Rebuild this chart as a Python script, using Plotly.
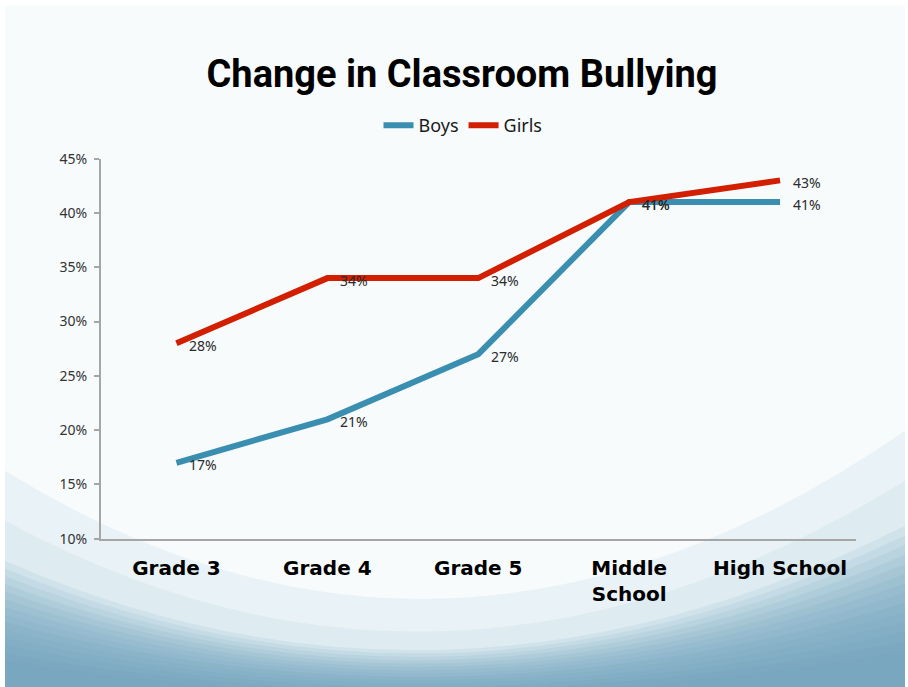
import plotly.graph_objects as go

W, H = 908, 687

categories = ["Grade 3", "Grade 4", "Grade 5", "Middle School", "High School"]
tick_labels = ["Grade 3", "Grade 4", "Grade 5", "Middle<br>School", "High School"]
boys = [0.17, 0.21, 0.27, 0.41, 0.41]
girls = [0.28, 0.34, 0.34, 0.41, 0.43]
y_ticks = [0.10, 0.15, 0.20, 0.25, 0.30, 0.35, 0.40, 0.45]

BLUE = "#3a8fb1"
RED = "#d21f00"

# screen-pixel helpers (vertical mapping calibrated to the rendered page)
Y_SCALE, Y_OFF = 0.972, 9.4

def px(x):
    return x / W

def py(y):
    return 1 - ((y - Y_OFF) / Y_SCALE) / H

fig = go.Figure()
fig.add_trace(go.Scatter(x=categories, y=boys, mode="lines", name="Boys",
                         line=dict(color=BLUE, width=6)))
fig.add_trace(go.Scatter(x=categories, y=girls, mode="lines", name="Girls",
                         line=dict(color=RED, width=6)))

annotations = []
for series in (boys, girls):
    for c, v in zip(categories, series):
        annotations.append(dict(x=c, y=v, xref="x", yref="y", text=f"{round(v*100)}%",
                                showarrow=False, xanchor="left", yanchor="middle",
                                xshift=11, yshift=-2,
                                font=dict(family="Noto Sans", size=14, color="#2a2a2a")))

def wave(y0, cy, y1, color, cx=450):
    path = (f"M {px(5)},{py(y0)} Q {px(cx)},{py(cy)} {px(905)},{py(y1)} "
            f"L {px(905)},-0.05 L {px(5)},-0.05 Z")
    return dict(type="path", xref="paper", yref="paper", path=path,
                fillcolor=color, line=dict(width=0), layer="below")

shapes = [
    dict(type="rect", xref="paper", yref="paper", x0=px(5), x1=px(905), y0=-0.05, y1=py(5),
         fillcolor="#f7fbfc", line=dict(width=0), layer="below"),
    wave(470, 745, 430, "rgba(190,215,226,0.25)"),
    wave(520, 760, 480, "rgba(190,215,226,0.25)"),
]
n = 14
for i in range(n):
    t = i / (n - 1)
    shapes.append(wave(560 + t * 100, 755 - t * 25, 525 + t * 125, "rgba(100,155,180,0.11)"))

fig.update_layout(
    width=W, height=H,
    margin=dict(l=0, r=0, t=0, b=0),
    paper_bgcolor="white",
    plot_bgcolor="rgba(0,0,0,0)",
    title=dict(text="<b>Change in Classroom Bullying</b>", x=px(462), y=py(81),
               xanchor="center", yanchor="middle",
               font=dict(family="Roboto", size=38, color="black")),
    legend=dict(orientation="h", x=px(463), y=py(125), xanchor="center", yanchor="middle",
                font=dict(family="Noto Sans", size=18, color="#1a1a1a"),
                bgcolor="rgba(0,0,0,0)", itemwidth=30, tracegroupgap=0),
    xaxis=dict(domain=[px(101), px(855.5)], range=[-0.5, 4.5], type="category",
               tickmode="array", tickvals=categories, ticktext=tick_labels,
               showline=True, linecolor="#a6a6a6", linewidth=2,
               ticks="outside", ticklen=10, tickcolor="rgba(0,0,0,0)",
               showgrid=False, zeroline=False,
               tickfont=dict(family="DejaVu Sans", size=20, color="black", weight="bold")),
    yaxis=dict(domain=[py(538), py(158)], range=[0.10, 0.45],
               tickmode="array", tickvals=y_ticks, tickformat=".0%",
               showline=True, linecolor="#a6a6a6", linewidth=2,
               ticks="outside", ticklen=5, tickcolor="#a6a6a6", tickwidth=2,
               ticklabelstandoff=4,
               showgrid=False, zeroline=False,
               tickfont=dict(family="Noto Sans", size=14, color="#333333")),
    annotations=annotations,
    shapes=shapes,
)

post = """
var de = document.documentElement, b = document.body;
de.style.margin = '0'; de.style.padding = '0'; de.style.overflow = 'hidden';
b.style.margin = '0'; b.style.padding = '0'; b.style.overflow = 'hidden';
"""

fig.write_html("out.html", config={"displayModeBar": False}, post_script=post)
